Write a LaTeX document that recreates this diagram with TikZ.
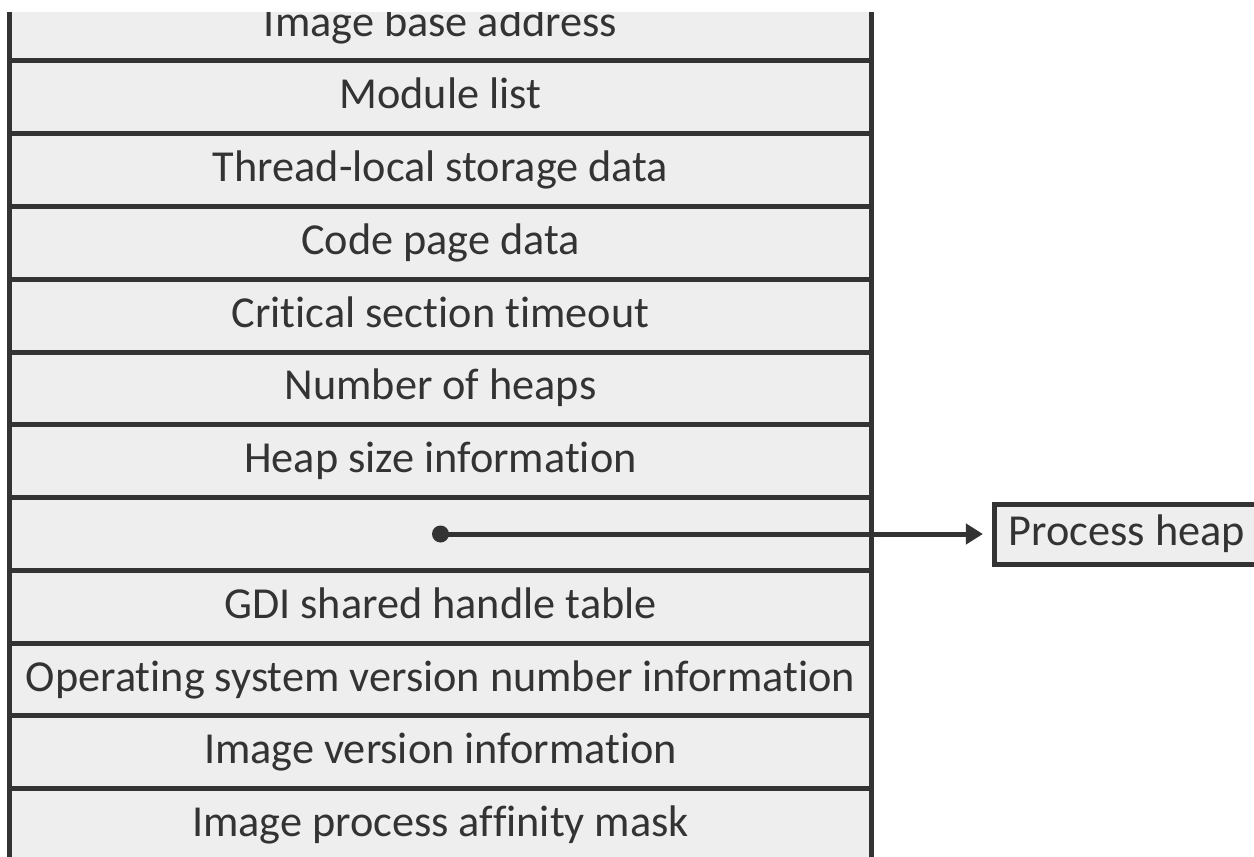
\documentclass[tikz,border=0pt]{standalone}
\usepackage{fontspec}
\setmainfont{Carlito}[Ligatures={NoCommon}]
\usetikzlibrary{arrows.meta,positioning}
\usepackage{xcolor}
\definecolor{LineGray}{HTML}{333333}
\definecolor{CellGray}{HTML}{EEEEEE}
\tikzset{
  field/.style={draw=LineGray, fill=CellGray, line width=0.1cm, outer sep=0pt,
    minimum width=17.24cm, minimum height=1.456cm, inner sep=0pt,
    text height=0.66cm, text depth=0.2cm, text=LineGray,
    font=\fontsize{25.2}{30}\selectfont},
  target/.style={draw=LineGray, fill=CellGray, line width=0.1cm,
    minimum width=5.3cm, minimum height=1.2cm, inner sep=0pt,
    text height=0.66cm, text depth=0.2cm, text=LineGray,
    font=\fontsize{25.2}{30}\selectfont},
  pointer/.style={-{Triangle[length=0.34cm,width=0.4cm]}, line width=0.1cm, LineGray}
}

\begin{document}
\begin{tikzpicture}[x=0.02cm, y=-0.02cm, node distance=0pt]
  \useasboundingbox (0,0) rectangle (1254,856);
  \begin{scope}
    \clip (0,12) rectangle (1254,856);
    \node[field] (base) at (440.5,24.5) {Image base address};
    \node[field,below=of base] (modules) {Module list};
    \node[field,below=of modules] (tls) {Thread-local storage data};
    \node[field,below=of tls] (codepage) {Code page data};
    \node[field,below=of codepage] (critsec) {Critical section timeout};
    \node[field,below=of critsec] (numheaps) {Number of heaps};
    \node[field,below=of numheaps] (heapsize) {Heap size information};
    \node[field,below=of heapsize] (heapptr) {};
    \node[field,below=of heapptr] (gdi) {GDI shared handle table};
    \node[field,below=of gdi] (osver) {Operating system version number information};
    \node[field,below=of osver] (imgver) {Image version information};
    \node[field,below=of imgver] (affinity) {Image process affinity mask};
    \node[target,right=2.41cm of heapptr] (procheap) {Process heap};
    \fill[LineGray] (heapptr.center) circle (0.17cm);
    \draw[pointer, shorten >=0.18cm] (heapptr.center) -- (procheap.west);
  \end{scope}
\end{tikzpicture}
\end{document}
